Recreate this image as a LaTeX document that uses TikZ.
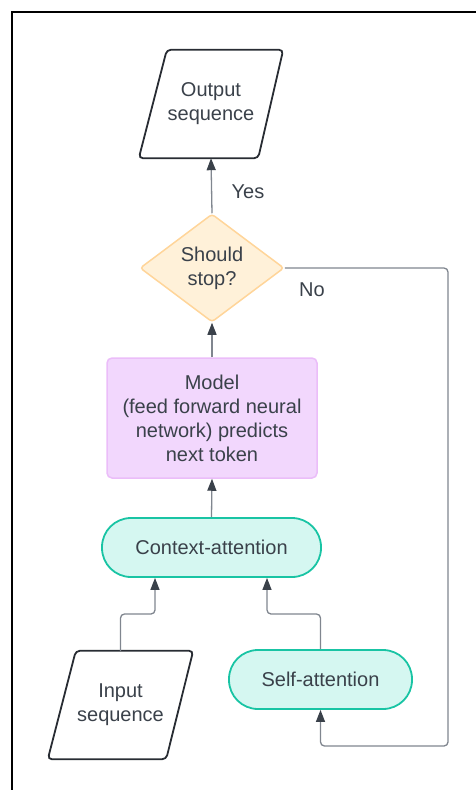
\documentclass[tikz,border=0pt]{standalone}
\usepackage{fontspec}
\setmainfont{Liberation Sans}
\usetikzlibrary{calc,arrows.meta,shapes.geometric}
\definecolor{ink}{HTML}{3A414A}
\definecolor{wire}{HTML}{80868F}
\definecolor{ioline}{HTML}{282C33}
\definecolor{decfill}{HTML}{FFF1D9}
\definecolor{decline}{HTML}{FFD59A}
\definecolor{procfill}{HTML}{F2D7FD}
\definecolor{procline}{HTML}{EBBDF9}
\definecolor{attfill}{HTML}{D5F7F1}
\definecolor{attline}{HTML}{19C4A4}
\tikzset{
  txt/.style={text=ink, align=center, font=\fontsize{20}{24}\selectfont},
  iobox/.style={txt, inner sep=0pt},
  iopath/.style={draw=ioline, line width=1.8pt, rounded corners=4pt},
  decision/.style={txt, diamond, aspect=1.333, inner sep=0pt, minimum width=144pt, minimum height=108pt,
    draw=decline, fill=decfill, line width=1.5pt, rounded corners=3pt},
  procbox/.style={txt, rectangle, minimum width=210pt, minimum height=120pt,
    draw=procline, fill=procfill, line width=1.5pt, rounded corners=5pt},
  attbox/.style={txt, rectangle, minimum height=59pt, draw=attline, fill=attfill,
    line width=1.8pt, rounded corners=29pt},
  conn/.style={draw=wire, line width=1.3pt, rounded corners=4pt,
    -{Triangle[length=12pt,width=9pt,color=ink]}},
  lbl/.style={text=ink, font=\fontsize{20}{24}\selectfont},
}
\begin{document}
\begin{tikzpicture}[x=1pt,y=-1pt]
\useasboundingbox (0,0) rectangle (476,790);
% outer frame
\draw[line width=2.5pt] (12,800) -- (12,12) -- (490,12);

% output parallelogram
\node[iobox, minimum width=144pt, minimum height=108pt] (out) at (211,104) {Output\\sequence};
\draw[iopath] ($(out.north west)+(28,0)$) -- (out.north east) -- ($(out.south east)+(-25,0)$) -- (out.south west) -- cycle;

% decision
\node[decision] (dia) at (212,268) {Should\\stop?};

% model
\node[procbox] (model) at (212,418) {Model\\(feed forward neural\\network) predicts\\next token};

% attention blocks
\node[attbox, minimum width=219pt] (ctx) at (211.5,547.5) {Context-attention};
\node[attbox, minimum width=183pt] (self) at (320.5,679.5) {Self-attention};

% input parallelogram
\node[iobox, minimum width=145pt, minimum height=108pt] (in) at (120.5,705) {Input\\sequence};
\draw[iopath] ($(in.north west)+(28,0)$) -- (in.north east) -- ($(in.south east)+(-27,0)$) -- (in.south west) -- cycle;

% connectors
\draw[conn] (ctx.north) -- (model.south);
\draw[conn] (model.north) -- (dia.south);
\draw[conn] (dia.north) -- (out.south);
\node[lbl] (yes) at (248,192) {Yes};
\node[lbl] (no) at (312,290) {No};

\coordinate (loop) at (448,746);
\draw[conn] (dia.east) -| (loop) -| (self.south);

\coordinate (j1) at (155,614);
\coordinate (j2) at (267,614);
\draw[conn] (in.north) |- (j1) -- (j1 |- ctx.south);
\draw[conn] (self.north) |- (j2) -- (j2 |- ctx.south);
\end{tikzpicture}
\end{document}
